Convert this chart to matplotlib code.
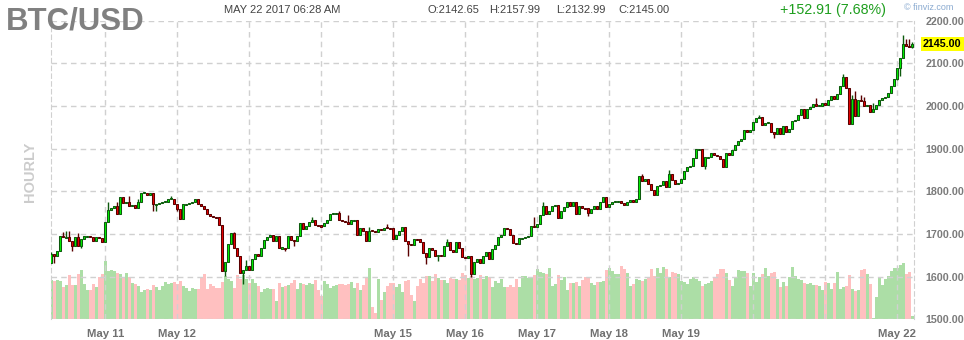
import matplotlib
matplotlib.use("Agg")
import matplotlib.pyplot as plt
from matplotlib.transforms import IdentityTransform

# ---------------- data (hourly BTC/USD, May 10 06:00 -> May 22 05:00) ----------------
first_open = 1631
closes = [
    1654, 1648, 1661, 1696, 1692, 1693, 1683, 1672, 1693, 1672, 1687, 1694, 1694, 1692, 1683, 1693, 1690, 1681,
    1728, 1755, 1761, 1765, 1747, 1786, 1772, 1776, 1765, 1768, 1761, 1776, 1796, 1797, 1792, 1797, 1769, 1771,
    1773, 1774, 1776, 1782, 1783, 1769, 1758, 1735, 1769, 1771, 1772, 1776, 1783, 1771, 1766, 1758, 1746, 1741,
    1740, 1739, 1722, 1612, 1633, 1677, 1702, 1667, 1648, 1608, 1616, 1624, 1615, 1641, 1654, 1649, 1667, 1685,
    1693, 1698, 1683, 1696, 1667, 1667, 1666, 1694, 1685, 1683, 1694, 1726, 1712, 1719, 1729, 1733, 1722, 1719,
    1718, 1726, 1732, 1747, 1747, 1749, 1733, 1731, 1728, 1724, 1732, 1732, 1698, 1714, 1708, 1683, 1708, 1706,
    1704, 1712, 1710, 1715, 1714, 1713, 1688, 1698, 1708, 1716, 1683, 1676, 1674, 1688, 1687, 1680, 1655, 1646,
    1667, 1662, 1649, 1649, 1648, 1672, 1681, 1663, 1657, 1681, 1667, 1646, 1644, 1649, 1605, 1634, 1641, 1632,
    1649, 1657, 1641, 1665, 1675, 1693, 1698, 1714, 1712, 1698, 1679, 1676, 1690, 1690, 1693, 1694, 1719, 1716,
    1724, 1745, 1765, 1747, 1753, 1766, 1768, 1737, 1753, 1763, 1774, 1766, 1774, 1747, 1766, 1761, 1760, 1749,
    1758, 1765, 1758, 1774, 1786, 1763, 1771, 1774, 1777, 1777, 1772, 1768, 1774, 1780, 1775, 1782, 1835, 1823,
    1828, 1818, 1802, 1792, 1813, 1815, 1823, 1810, 1841, 1827, 1818, 1819, 1828, 1847, 1856, 1860, 1878, 1899,
    1899, 1860, 1880, 1880, 1889, 1886, 1882, 1875, 1857, 1889, 1886, 1897, 1909, 1919, 1922, 1943, 1938, 1944,
    1963, 1971, 1974, 1956, 1960, 1961, 1938, 1935, 1948, 1935, 1952, 1939, 1946, 1964, 1968, 1978, 1993, 1971,
    1994, 1997, 2005, 2000, 2001, 2008, 2003, 2013, 2024, 2017, 2028, 2047, 2069, 2042, 1957, 2016, 1977, 2013,
    2012, 2000, 2002, 1985, 1992, 2002, 2013, 2018, 2022, 2030, 2046, 2063, 2088, 2112, 2145, 2141, 2138, 2145,
]
# visible wick extremes (candle index -> price)
wick_highs = {0: 1657, 4: 1704, 5: 1706, 6: 1707, 9: 1702, 19: 1776, 22: 1774, 26: 1790, 29: 1782, 40: 1789,
              61: 1704, 65: 1640, 87: 1739, 96: 1754, 99: 1745, 106: 1716, 112: 1723, 132: 1687, 161: 1740,
              164: 1776, 197: 1840, 206: 1850, 217: 1900, 236: 1980, 255: 2018, 264: 2075, 267: 2026,
              268: 2036, 270: 2026, 271: 2020, 274: 2008, 284: 2166, 285: 2158, 286: 2158, 287: 2150}
wick_lows = {1: 1632, 7: 1661, 10: 1668, 34: 1753, 35: 1754, 42: 1753, 58: 1602, 64: 1583, 78: 1659, 81: 1671,
             119: 1649, 125: 1630, 129: 1636, 140: 1600, 179: 1742, 218: 1852, 241: 1924, 282: 2061,
             283: 2070, 287: 2135}
volumes = [
    39, 38, 39, 38, 32, 34, 44, 34, 34, 45, 49, 35, 29, 29, 35, 32, 42, 45, 58, 48, 49, 48, 46, 45, 42, 46, 42, 36,
    35, 33, 27, 29, 30, 29, 34, 32, 29, 33, 37, 35, 36, 37, 35, 38, 33, 31, 28, 31, 30, 30, 42, 45, 30, 35, 33, 31,
    31, 37, 43, 40, 38, 31, 44, 40, 44, 40, 36, 40, 36, 33, 27, 30, 31, 30, 30, 18, 36, 32, 33, 34, 36, 39, 30, 36,
    35, 34, 36, 35, 39, 29, 23, 38, 35, 31, 33, 34, 35, 35, 34, 35, 37, 31, 36, 29, 34, 42, 51, 12, 6, 40, 19, 27,
    33, 36, 36, 32, 35, 27, 38, 39, 24, 18, 33, 40, 36, 43, 43, 38, 45, 41, 39, 39, 36, 41, 40, 40, 39, 46, 44, 41,
    43, 40, 41, 44, 40, 43, 42, 32, 38, 36, 40, 32, 32, 34, 32, 40, 32, 43, 43, 41, 42, 44, 50, 47, 46, 45, 51, 33,
    35, 44, 39, 42, 29, 36, 36, 37, 33, 39, 42, 42, 36, 34, 37, 37, 38, 49, 51, 48, 45, 45, 53, 50, 46, 33, 35, 40,
    39, 38, 40, 41, 50, 43, 51, 46, 52, 50, 42, 47, 46, 45, 38, 37, 35, 40, 42, 40, 38, 33, 35, 36, 38, 42, 45, 50,
    50, 46, 39, 33, 42, 49, 48, 48, 46, 33, 46, 37, 42, 45, 51, 43, 46, 47, 40, 32, 37, 33, 42, 52, 43, 40, 39, 36,
    35, 36, 34, 34, 33, 29, 37, 36, 30, 36, 47, 30, 32, 33, 44, 30, 28, 29, 49, 50, 45, 35, 1, 22, 42, 34, 40, 43,
    48, 51, 51, 54, 56, 45, 47, 3,
]
day_start_index = [18, 42, 66, 90, 114, 138, 162, 186, 210, 234, 258, 282]
day_labels = ["May 11", "May 12", "", "", "May 15", "May 16", "May 17", "May 18", "May 19", "", "", "May 22"]
price_ticks = [1500, 1600, 1700, 1800, 1900, 2000, 2100, 2200]
last_price = 2145.00
header_date = "MAY 22 2017 06:28 AM"
header_ohlc = ["O:2142.65", "H:2157.99", "L:2132.99", "C:2145.00"]
header_change = "+152.91 (7.68%)"

# ---------------- derived OHLC ----------------
n = len(closes)
opens = [first_open] + closes[:-1]
highs = [max(o, c, wick_highs.get(i, 0)) for i, (o, c) in enumerate(zip(opens, closes))]
lows = [min(o, c, wick_lows.get(i, 1e9)) for i, (o, c) in enumerate(zip(opens, closes))]
up = [c >= o for o, c in zip(opens, closes)]
idx = list(range(n))

# ---------------- figure ----------------
W, H = 964, 340
fig = plt.figure(figsize=(W / 100, H / 100), dpi=100)
fig.patch.set_facecolor("white")
x0, x1 = 50.7, 914.3
y_top, y_bot = 20.7, 319.2
rect = [x0 / W, (H - y_bot) / H, (x1 - x0) / W, (y_bot - y_top) / H]

axv = fig.add_axes(rect)
ax = fig.add_axes(rect)
ax.patch.set_alpha(0)

xlim = (-0.2, n - 0.33)
for a in (axv, ax):
    a.set_xlim(*xlim)

# volume
vcol = ["#acdea6" if u else "#ffc0c0" for u in up]
axv.bar(idx, volumes, width=1.0, color=vcol, linewidth=0)
axv.set_ylim(0, 298.5)
axv.axis("off")

# grid
dash = (0, (4, 3))
ax.set_ylim(1500, 2200)
ax.set_yticks(price_ticks)
ax.grid(axis="y", linestyle=dash, color="#d0d0d0", linewidth=1)
for d in day_start_index:
    ax.axvline(d, linestyle=dash, color="#d0d0d0", linewidth=1, zorder=0.5)
for side in ("left", "right"):
    ax.spines[side].set_linestyle(dash)
    ax.spines[side].set_color("#d0d0d0")
for side in ("top", "bottom"):
    ax.spines[side].set_visible(False)

# candles
GF, GE = "#00f000", "#0d5a0d"
RF, RE = "#e80000", "#5a0000"
for i in idx:
    o, c, h, l = opens[i], closes[i], highs[i], lows[i]
    fc, ec = (GF, GE) if up[i] else (RF, RE)
    ax.vlines(i, l, h, color=ec, linewidth=1, zorder=3)
    lo, hi = min(o, c), max(o, c)
    if hi - lo < 2.5:
        lo, hi = (o + c) / 2 - 1.25, (o + c) / 2 + 1.25
    ax.bar(i, hi - lo, bottom=lo, width=0.68, color=fc, edgecolor=ec, linewidth=0.75, zorder=4)

# axis ticks & labels
ax.yaxis.tick_right()
ax.tick_params(axis="y", length=0, pad=8, labelsize=7.7, labelcolor="#7a7a7a")
ax.set_yticklabels([f"{t:.2f}" for t in price_ticks], fontweight="bold", family="Liberation Sans")
ax.set_xticks(day_start_index)
ax.set_xticklabels(day_labels, fontweight="bold", family="Liberation Sans")
ax.tick_params(axis="x", length=0, pad=7, labelsize=8.2, labelcolor="#707070")

# current price marker
ydisp = ax.transData.transform((0, last_price))[1]
fig.text(923, ydisp, f"{last_price:.2f}", transform=IdentityTransform(), ha="left", va="center",
         fontsize=7.7, fontweight="bold", family="Liberation Sans", color="black",
         bbox=dict(boxstyle="square,pad=0.2", facecolor="#ffff00", edgecolor="none"))

# titles
def ftext(x, y, s, **kw):
    fig.text(x / W, 1 - y / H, s, **kw)

ftext(6, 29, "BTC/USD", fontsize=22.5, fontweight="bold", color="#808080", family="Liberation Sans",
      va="baseline", ha="left")
ftext(30, 172, "HOURLY", fontsize=10.5, fontweight="bold", color="#cccccc", family="Liberation Sans",
      rotation=90, ha="center", va="center")
ftext(224, 10, header_date, fontsize=8, color="#444444", family="Liberation Sans", va="center", ha="left")
for xh, s in zip([427, 489, 556, 618], header_ohlc):
    ftext(xh, 10, s, fontsize=8, color="#444444", family="Liberation Sans", va="center", ha="left")
ftext(780, 10, header_change, fontsize=10.3, color="#1e9e1e", family="Liberation Sans", va="center", ha="left")
ftext(904, 8, "\u00a9 finviz.com", fontsize=6.5, color="#8aaad0", family="Liberation Sans", va="center", ha="left")

fig.savefig("out.png", dpi=100, facecolor="white")
